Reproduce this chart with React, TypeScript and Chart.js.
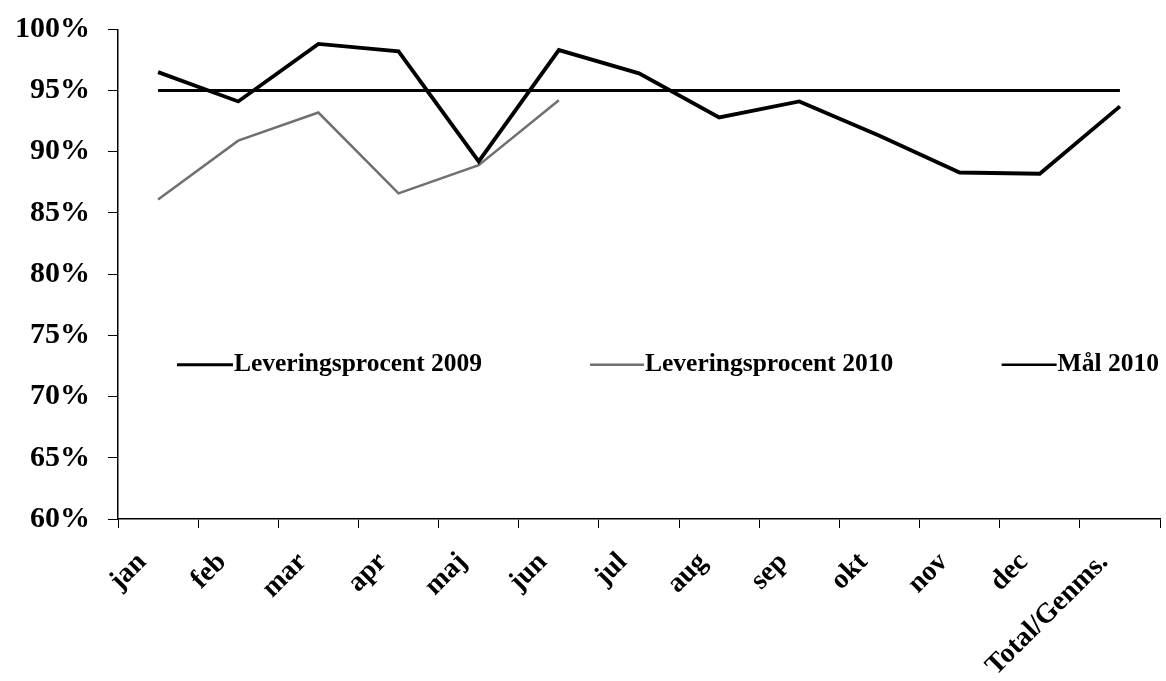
import React, { useEffect, useRef } from "react";
import { Chart, registerables } from "chart.js";

Chart.register(...registerables);

const categories = ["jan", "feb", "mar", "apr", "maj", "jun", "jul", "aug", "sep", "okt", "nov", "dec", "Total/Genms."];
const levering2009 = [96.5, 94.1, 98.8, 98.2, 89.2, 98.3, 96.4, 92.8, 94.1, 91.3, 88.3, 88.2, 93.7];
const levering2010 = [86.1, 90.9, 93.2, 86.6, 88.9, 94.2, null, null, null, null, null, null, null];
const maal2010 = [95, 95, 95, 95, 95, 95, 95, 95, 95, 95, 95, 95, 95];
const yTicks = [60, 65, 70, 75, 80, 85, 90, 95, 100];
const seriesNames = ["Leveringsprocent 2009", "Leveringsprocent 2010", "Mål 2010"];

const FONT = "'Liberation Serif', 'Times New Roman', serif";

const legendPlugin = {
  id: "insideLegend",
  afterDraw(chart: any) {
    const { ctx, chartArea } = chart;
    const w = chartArea.right - chartArea.left;
    const h = chartArea.bottom - chartArea.top;
    const y = chartArea.top + 0.685 * h;
    const items = [
      { x: 0.0566, len: 56, color: "#000", width: 3 },
      { x: 0.453, len: 54, color: "#707070", width: 2.5 },
      { x: 0.848, len: 55, color: "#000", width: 2.5 },
    ];
    ctx.save();
    ctx.font = `bold 25.5px ${FONT}`;
    ctx.textBaseline = "middle";
    ctx.fillStyle = "#000";
    items.forEach((it, i) => {
      const x0 = chartArea.left + it.x * w;
      ctx.strokeStyle = it.color;
      ctx.lineWidth = it.width;
      ctx.beginPath();
      ctx.moveTo(x0, y);
      ctx.lineTo(x0 + it.len, y);
      ctx.stroke();
      ctx.fillText(seriesNames[i], x0 + it.len + 1, y);
    });
    ctx.restore();
  },
};

export default function App() {
  const ref = useRef<HTMLCanvasElement>(null);
  useEffect(() => {
    document.body.style.margin = "0";
    const chart = new Chart(ref.current!, {
      type: "line",
      data: {
        labels: categories,
        datasets: [
          { label: seriesNames[0], data: levering2009, borderColor: "#000", borderWidth: 3.8, pointRadius: 0, tension: 0 },
          { label: seriesNames[1], data: levering2010 as any, borderColor: "#707070", borderWidth: 2.5, pointRadius: 0, tension: 0, spanGaps: false },
          { label: seriesNames[2], data: maal2010, borderColor: "#000", borderWidth: 3, pointRadius: 0, tension: 0 },
        ],
      },
      options: {
        animation: false,
        responsive: false,
        layout: { padding: { top: 10, right: 6, left: 0, bottom: 0 } },
        plugins: { legend: { display: false }, tooltip: { enabled: false } },
        scales: {
          x: {
            type: "category",
            offset: true,
            grid: { display: true, offset: true, drawOnChartArea: false, drawTicks: true, tickLength: 9, color: "#000" },
            border: { display: true, color: "#000", width: 1.5 },
            ticks: {
              color: "#000",
              font: { family: FONT, size: 28, weight: "bold" },
              maxRotation: 45,
              minRotation: 45,
              autoSkip: false,
              padding: 18,
              labelOffset: -16,
            },
            afterFit: (s: any) => { s.height = 162; },
          },
          y: {
            min: 60,
            max: 100,
            afterBuildTicks: (s: any) => { s.ticks = yTicks.map((v) => ({ value: v })); },
            grid: { display: true, drawOnChartArea: false, drawTicks: true, tickLength: 10, color: "#000" },
            border: { display: true, color: "#000", width: 1.5 },
            ticks: {
              color: "#000",
              font: { family: FONT, size: 30, weight: "bold", lineHeight: 0.75 },
              padding: 18,
              callback: (v: any) => `${v}%`,
            },
            afterFit: (s: any) => { s.width = 118; },
          },
        },
      },
      plugins: [legendPlugin],
    });
    return () => chart.destroy();
  }, []);
  return <canvas ref={ref} width={1166} height={681} style={{ display: "block" }} />;
}
